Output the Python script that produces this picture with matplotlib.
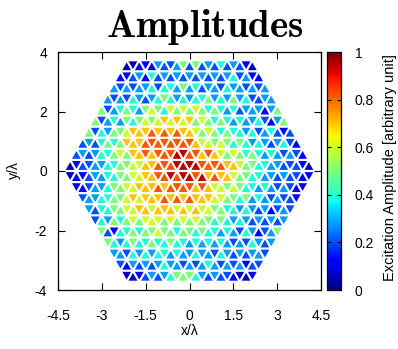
import numpy as np
import matplotlib
matplotlib.use("Agg")
import matplotlib.pyplot as plt
from matplotlib.collections import PolyCollection

plt.rcParams['font.family'] = ['Liberation Sans', 'DejaVu Sans']
plt.rcParams['mathtext.fontset'] = 'cm'

# element amplitude codes, one string per row of triangles (top -> bottom)
amp_rows = [
    "001113223525232423210",
    "11231423232323232342311",
    "3232334244353423324332323",
    "323243234543434453435342233",
    "52345435654656565454342333135",
    "5234354565676767565454343342135",
    "524355677787878776565454434234212",
    "23245457778888888876656545434323421",
    "2323445657787888998878765654543432321",
    "012233445566778889999888877655443322210",
    "011233445566778898998978776554433232211",
    "1123345566777878888787665654434323211",
    "23344556767778787877766554534323221",
    "324455667767776767665544343231232",
    "2435456566656565655454343232323",
    "52144545565545545443432431235",
    "543454454454434343432324323",
    "3324343443433433243232332",
    "21323234332323432323122",
    "001232345554323221001",
]
# amplitude for each code digit
amp_levels = [0.05, 0.12, 0.2, 0.28, 0.39, 0.5, 0.6, 0.7, 0.82, 0.95]

xticks = [-4.5, -3, -1.5, 0, 1.5, 3, 4.5]
yticks = [-4, -2, 0, 2, 4]
cbar_ticks = [0, 0.2, 0.4, 0.6, 0.8, 1]

# triangular lattice geometry
n = 10
s = 0.43
h = s * np.sqrt(3) / 2
shrink = 0.7

polys = []
vals = []
for r, row in enumerate(amp_rows):
    if r < n:
        k = r + 1                      # rows widen downwards
        y_top, y_bot = (n - k + 1) * h, (n - k) * h
        wide = n + k
        up_even = True
    else:
        k = r - n + 1                  # rows narrow downwards
        y_top, y_bot = -(k - 1) * h, -k * h
        wide = 2 * n - k + 1
        up_even = False
    x0 = -wide * s / 2
    for i, ch in enumerate(row):
        j = i // 2
        up = (i % 2 == 0) == up_even
        xl = x0 + j * s if i % 2 == 0 else x0 + (j + 0.5) * s
        if up:
            tri = np.array([[xl, y_bot], [xl + s, y_bot], [xl + s / 2, y_top]])
        else:
            tri = np.array([[xl, y_top], [xl + s, y_top], [xl + s / 2, y_bot]])
        c = tri.mean(axis=0)
        polys.append(c + shrink * (tri - c))
        vals.append(amp_levels[int(ch)])

fig = plt.figure(figsize=(3.98, 3.49), dpi=100)
ax = fig.add_axes([58 / 398, 59 / 349, 263 / 398, 238 / 349])
cax = fig.add_axes([327 / 398, 59 / 349, 14 / 398, 238 / 349])

pc = PolyCollection(polys, array=np.array(vals), cmap='jet', edgecolors='none')
pc.set_clim(0, 1)
ax.add_collection(pc)

ax.set_xlim(-4.5, 4.5)
ax.set_ylim(-4, 4)
ax.set_xticks(xticks)
ax.set_xticklabels([f"{t:g}" for t in xticks])
ax.set_yticks(yticks)
ax.set_yticklabels([f"{t:g}" for t in yticks])
ax.tick_params(direction='in', top=True, right=True, length=5, width=0.8,
               labelsize=10, pad=8)
ax.tick_params(axis='x', pad=14)
for sp in ax.spines.values():
    sp.set_linewidth(0.9)

cb = fig.colorbar(pc, cax=cax, ticks=cbar_ticks)
cb.ax.set_yticklabels([f"{t:g}" for t in cbar_ticks])
cb.ax.tick_params(direction='in', left=True, right=True, length=3, width=0.8,
                  labelsize=10, pad=10)
cb.outline.set_linewidth(0.9)

fig.text(189.5 / 398, 1 - 331 / 349, 'x/λ', ha='center', va='center', fontsize=10)
fig.text(14 / 398, 1 - 170 / 349, 'y/λ', ha='center', va='center', fontsize=10,
         rotation=90)
fig.text(390 / 398, 1 - 167.5 / 349, 'Excitation Amplitude [arbitrary unit]',
         ha='center', va='center', fontsize=10.5, rotation=90)
fig.text(205 / 398, 1 - 37 / 349, r'$\mathbf{Amplitudes}$', ha='center',
         va='baseline', fontsize=28)

fig.savefig('out.png', dpi=100)
